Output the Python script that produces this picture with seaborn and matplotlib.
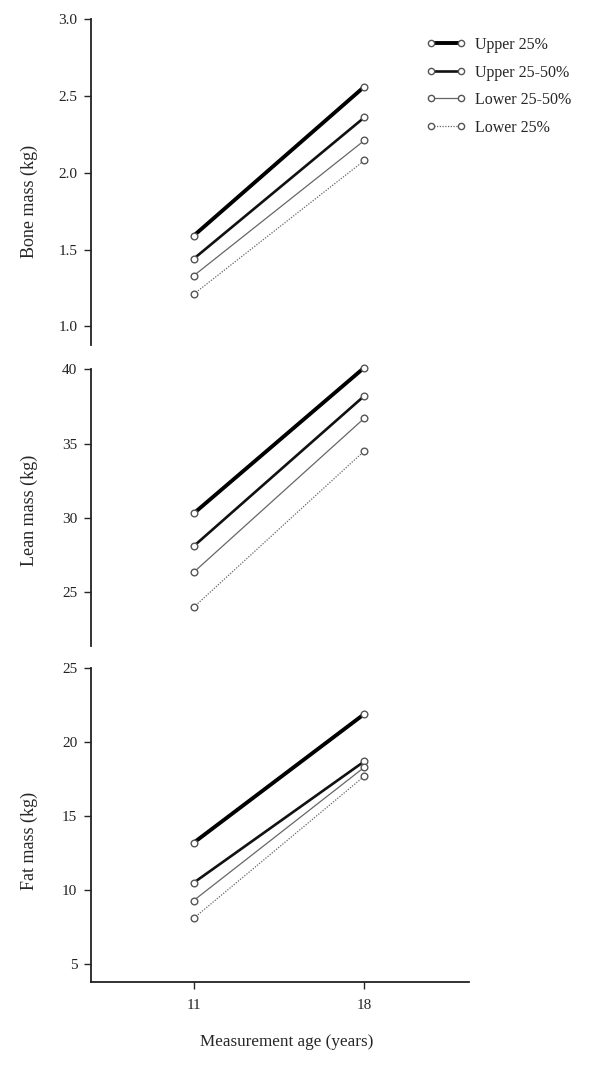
import pandas as pd
import matplotlib.pyplot as plt
import seaborn as sns

sns.set_style('white')
plt.rcParams['font.family'] = ['Liberation Serif', 'DejaVu Serif']

ages = [11, 18]
groups = ['Upper 25%', 'Upper 25-50%', 'Lower 25-50%', 'Lower 25%']

bone_11 = [1.59, 1.44, 1.33, 1.21]
bone_18 = [2.56, 2.36, 2.21, 2.08]
lean_11 = [30.3, 28.1, 26.35, 24.0]
lean_18 = [40.1, 38.2, 36.7, 34.5]
fat_11 = [13.2, 10.5, 9.3, 8.1]
fat_18 = [21.9, 18.7, 18.3, 17.7]

panels = [
    ('Bone mass (kg)', bone_11, bone_18, (0.88, 3.0), [1.0, 1.5, 2.0, 2.5, 3.0], '{:.1f}', 0.44),
    ('Lean mass (kg)', lean_11, lean_18, (21.4, 40.0), [25, 30, 35, 40], '{:.0f}', 0.49),
    ('Fat mass (kg)', fat_11, fat_18, (3.8, 25.0), [5, 10, 15, 20, 25], '{:.0f}', 0.45),
]

palette = {'Upper 25%': 'black', 'Upper 25-50%': '#111111',
           'Lower 25-50%': '#666666', 'Lower 25%': '#666666'}
sizes = {'Upper 25%': 2.8, 'Upper 25-50%': 1.9, 'Lower 25-50%': 0.9, 'Lower 25%': 0.9}
dashes = {'Upper 25%': '', 'Upper 25-50%': '', 'Lower 25-50%': '', 'Lower 25%': (1, 1.2)}

fig = plt.figure(figsize=(6, 10.81), dpi=100)
boxes = [(0.152, 0.6809, 0.63, 0.3015),
         (0.152, 0.4024, 0.63, 0.2562),
         (0.152, 0.0916, 0.63, 0.2904)]

for i, (label, v11, v18, ylim, ticks, fmt, ly) in enumerate(panels):
    ax = fig.add_axes(boxes[i])
    rows = []
    for g, a, b in zip(groups, v11, v18):
        rows.append({'group': g, 'age': ages[0], 'value': a})
        rows.append({'group': g, 'age': ages[1], 'value': b})
    df = pd.DataFrame(rows)
    sns.lineplot(data=df, x='age', y='value', hue='group', size='group',
                 style='group', palette=palette, sizes=sizes, dashes=dashes,
                 markers={g: 'o' for g in groups}, markersize=4.8,
                 markerfacecolor='white', markeredgecolor='#555555',
                 markeredgewidth=1.0, hue_order=groups, size_order=groups,
                 style_order=groups, legend=False, ax=ax)
    for ln in ax.lines:
        ln.set_clip_on(False)
    ax.set_xlim(6.8, 22.3)
    ax.set_ylim(*ylim)
    ax.set_yticks(ticks)
    ax.set_yticklabels([fmt.format(t) for t in ticks], fontsize=11, color='#222222')
    ax.set_ylabel(label, fontsize=13)
    ax.yaxis.set_label_coords(-0.14, ly)
    ax.tick_params(axis='y', direction='out', length=5, width=1, left=True, pad=5)
    sns.despine(ax=ax, top=True, right=True, bottom=(i < 2))
    ax.spines['left'].set_linewidth(1.3)
    ax.spines['left'].set_bounds(ylim[0], ticks[-1])
    if i < 2:
        ax.set_xticks([])
        ax.set_xlabel('')
    else:
        ax.set_xticks(ages)
        ax.set_xticklabels([str(a) for a in ages], fontsize=11)
        ax.tick_params(axis='x', direction='out', length=5, width=1, bottom=True, pad=7)
        ax.spines['bottom'].set_linewidth(1.3)
        ax.set_xlabel('Measurement age (years)', fontsize=12.3)
        ax.xaxis.set_label_coords(0.516, -0.165)
    for s in ax.spines.values():
        s.set_color('#222222')

handles = []
for g in groups:
    h, = plt.plot([], [], color=palette[g], lw=sizes[g],
                  ls=(0, dashes[g]) if dashes[g] else '-',
                  marker='o', markersize=4.5, markerfacecolor='white',
                  markeredgecolor='#555555')
    handles.append(h)
fig.legend(handles, groups, loc='upper left', bbox_to_anchor=(0.686, 0.979),
           frameon=False, fontsize=11.5, numpoints=2, handlelength=2.5,
           handletextpad=0.6, labelspacing=0.72)

fig.savefig('out.png', dpi=100)
